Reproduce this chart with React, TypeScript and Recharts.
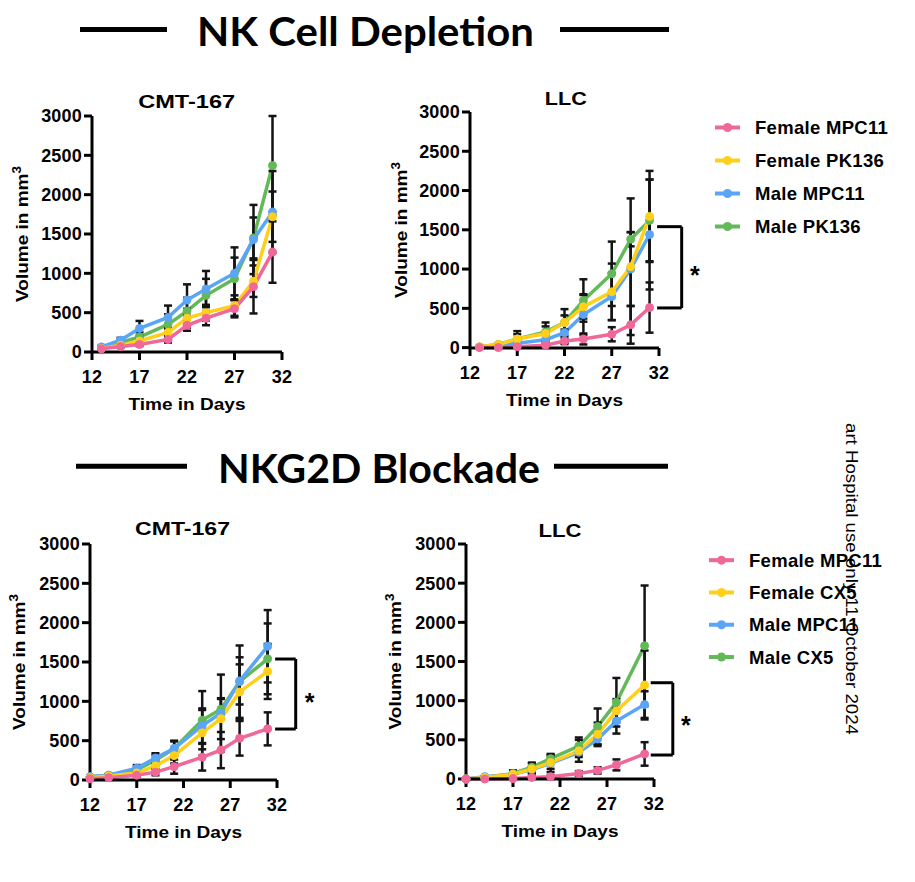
import { LineChart, Line, XAxis, YAxis, ErrorBar, Legend, ReferenceLine, ReferenceDot } from 'recharts'

// days on which tumours were measured
const nkDays = [13, 15, 17, 20, 22, 24, 27, 29, 31]
const blockDays = [12, 14, 17, 19, 21, 24, 26, 28, 31]

const dayTicks = [12, 17, 22, 27, 32]
const volumeTicks = [0, 500, 1000, 1500, 2000, 2500, 3000]

// NK cell depletion - CMT-167
const nkCmtFemaleMpc11 = [40, 70, 95, 160, 340, 430, 550, 830, 1270]
const nkCmtFemaleMpc11Err = [10, 15, 20, 40, 70, 90, 110, 340, 390]
const nkCmtFemalePk136 = [45, 85, 140, 250, 430, 500, 590, 900, 1720]
const nkCmtFemalePk136Err = [10, 20, 40, 60, 120, 100, 130, 200, 320]
const nkCmtMaleMpc11 = [65, 150, 300, 440, 660, 800, 1000, 1430, 1780]
const nkCmtMaleMpc11Err = [15, 30, 95, 150, 200, 230, 330, 440, 520]
const nkCmtMalePk136 = [55, 120, 190, 350, 520, 720, 930, 1450, 2370]
const nkCmtMalePk136Err = [10, 30, 60, 130, 170, 210, 270, 260, 630]

// NK cell depletion - LLC
const nkLlcFemaleMpc11 = [0, 0, 10, 30, 85, 110, 170, 290, 510]
const nkLlcFemaleMpc11Err = [5, 5, 10, 20, 40, 70, 90, 240, 320]
const nkLlcFemalePk136 = [10, 40, 110, 180, 320, 520, 710, 1030, 1670]
const nkLlcFemalePk136Err = [5, 15, 100, 90, 90, 150, 360, 870, 580]
const nkLlcMaleMpc11 = [5, 20, 55, 100, 190, 420, 650, 1000, 1440]
const nkLlcMaleMpc11Err = [5, 10, 30, 60, 130, 260, 300, 470, 700]
const nkLlcMalePk136 = [10, 40, 110, 200, 320, 600, 940, 1380, 1620]
const nkLlcMalePk136Err = [5, 15, 60, 120, 170, 270, 410, 90, 520]

// NKG2D blockade - CMT-167
const blCmtFemaleMpc11 = [15, 30, 60, 100, 170, 290, 380, 530, 650]
const blCmtFemaleMpc11Err = [5, 10, 20, 40, 90, 170, 230, 220, 210]
const blCmtFemaleCx5 = [30, 50, 90, 180, 310, 600, 780, 1120, 1380]
const blCmtFemaleCx5Err = [10, 15, 30, 80, 100, 290, 260, 350, 350]
const blCmtMaleMpc11 = [40, 60, 150, 280, 400, 690, 850, 1260, 1700]
const blCmtMaleMpc11Err = [10, 15, 40, 60, 100, 220, 490, 300, 460]
const blCmtMaleCx5 = [40, 60, 130, 250, 400, 760, 900, 1250, 1540]
const blCmtMaleCx5Err = [10, 15, 40, 70, 90, 370, 130, 460, 450]

// NKG2D blockade - LLC
const blLlcFemaleMpc11 = [0, 0, 5, 20, 30, 70, 110, 180, 320]
const blLlcFemaleMpc11Err = [0, 0, 5, 10, 20, 30, 40, 70, 150]
const blLlcFemaleCx5 = [0, 20, 60, 130, 210, 360, 570, 870, 1200]
const blLlcFemaleCx5Err = [0, 10, 30, 70, 80, 140, 150, 150, 440]
const blLlcMaleMpc11 = [0, 30, 60, 120, 200, 340, 510, 740, 950]
const blLlcMaleMpc11Err = [0, 10, 20, 40, 110, 60, 70, 160, 170]
const blLlcMaleCx5 = [0, 20, 70, 150, 260, 420, 670, 980, 1700]
const blLlcMaleCx5Err = [0, 10, 40, 60, 60, 110, 230, 310, 770]

const nkNames = ['Female MPC11', 'Female PK136', 'Male MPC11', 'Male PK136']
const blockNames = ['Female MPC11', 'Female CX5', 'Male MPC11', 'Male CX5']

const PINK = '#f0679a'
const YELLOW = '#ffcf1a'
const BLUE = '#5aa5f5'
const GREEN = '#63b95a'
const groupColors = [PINK, YELLOW, BLUE, GREEN]
// GraphPad stacking: green at the back, pink on top
const drawOrder = [3, 2, 1, 0]

const FONT = '"Liberation Sans", Arial, sans-serif'
const tickStyle = { fill: '#000', fontSize: 18, fontWeight: 700, fontFamily: FONT, letterSpacing: 0.2 }
const axisStroke = { stroke: '#000', strokeWidth: 3 }

type Series = { name: string; values: number[]; errors: number[] }
type Bracket = { x1: number; x2: number; top: number; bottom: number; starX: number; starY: number }
type LegendBox = { left: number; top: number; rowHeight: number }

const toPoints = (days: number[], values: number[], errors: number[]) =>
  days.map((day, i) => ({ day, volume: values[i], sem: errors[i] }))

function VolumeLabel({ viewBox, x }: any) {
  const cy = viewBox.y + viewBox.height / 2
  return (
    <text
      x={x}
      y={cy}
      transform={`rotate(-90 ${x} ${cy})`}
      textAnchor="middle"
      textLength={136}
      lengthAdjust="spacingAndGlyphs"
      style={{ fontFamily: FONT, fontWeight: 700, fontSize: 17, fill: '#000' }}
    >
      Volume in mm<tspan dy={-7} fontSize={12}>3</tspan>
    </text>
  )
}

function TimeLabel({ viewBox }: any) {
  return (
    <text
      x={viewBox.x + viewBox.width / 2}
      y={viewBox.y + 58}
      textAnchor="middle"
      textLength={117}
      lengthAdjust="spacingAndGlyphs"
      style={{ fontFamily: FONT, fontWeight: 700, fontSize: 17, fill: '#000' }}
    >
      Time in Days
    </text>
  )
}

function LegendList({ payload, names, rowHeight }: any) {
  const items = names.map((n: string) => (payload || []).find((p: any) => p.value === n)).filter(Boolean)
  return (
    <svg width={200} height={rowHeight * 4} style={{ display: 'block' }}>
      {items.map((item: any, i: number) => {
        const cy = rowHeight * i + rowHeight / 2
        return (
          <g key={item.value}>
            <line x1={2} x2={27} y1={cy} y2={cy} stroke={item.color} strokeWidth={4} />
            <circle cx={14.5} cy={cy} r={4.5} fill={item.color} />
            <text
              x={42}
              y={cy + 6.5}
              style={{ fontFamily: FONT, fontWeight: 700, fontSize: 18.5, letterSpacing: 0.3, fill: '#000' }}
            >
              {item.value}
            </text>
          </g>
        )
      })}
    </svg>
  )
}

interface PanelProps {
  left: number
  top: number
  width: number
  margin: { top: number; right: number; bottom: number; left: number }
  days: number[]
  series: Series[]
  yLabelX: number
  bracket?: Bracket
  legend?: LegendBox
}

function Panel({ left, top, width, margin, days, series, yLabelX, bracket, legend }: PanelProps) {
  const names = series.map((s) => s.name)
  return (
    <div style={{ position: 'absolute', left, top }}>
      <LineChart width={width} height={340} margin={margin}>
        <XAxis
          dataKey="day"
          type="number"
          domain={[12, 32]}
          ticks={dayTicks}
          interval={0}
          height={40}
          axisLine={axisStroke}
          tickLine={axisStroke}
          tickSize={8}
          tickMargin={10}
          tick={tickStyle}
          label={(p: any) => <TimeLabel {...p} />}
        />
        <YAxis
          type="number"
          domain={[0, 3000]}
          ticks={volumeTicks}
          interval={0}
          width={60}
          axisLine={axisStroke}
          tickLine={axisStroke}
          tickSize={8}
          tickMargin={2}
          tick={tickStyle}
          label={(p: any) => <VolumeLabel {...p} x={yLabelX} />}
        />
        {drawOrder.map((i) => {
          const s = series[i]
          return (
            <Line
              key={s.name}
              name={s.name}
              data={toPoints(days, s.values, s.errors)}
              dataKey="volume"
              stroke={groupColors[i]}
              strokeWidth={3.5}
              dot={{ r: 4, fill: groupColors[i], stroke: groupColors[i], strokeWidth: 1 }}
              activeDot={false}
              isAnimationActive={false}
            >
              <ErrorBar dataKey="sem" direction="y" width={4} strokeWidth={2.5} stroke="#141414" />
            </Line>
          )
        })}
        {bracket && (
          <>
            <ReferenceLine
              segment={[{ x: bracket.x1, y: bracket.top }, { x: bracket.x2, y: bracket.top }]}
              stroke="#000"
              strokeWidth={3}
              ifOverflow="visible"
            />
            <ReferenceLine
              segment={[{ x: bracket.x2, y: bracket.top }, { x: bracket.x2, y: bracket.bottom }]}
              stroke="#000"
              strokeWidth={3}
              ifOverflow="visible"
            />
            <ReferenceLine
              segment={[{ x: bracket.x1, y: bracket.bottom }, { x: bracket.x2, y: bracket.bottom }]}
              stroke="#000"
              strokeWidth={3}
              ifOverflow="visible"
            />
            <ReferenceDot
              x={bracket.starX}
              y={bracket.starY}
              ifOverflow="visible"
              shape={(p: any) => (
                <text
                  x={p.cx}
                  y={p.cy + 12.5}
                  textAnchor="middle"
                  style={{ fontFamily: FONT, fontWeight: 700, fontSize: 25, fill: '#000' }}
                >
                  *
                </text>
              )}
            />
          </>
        )}
        {legend && (
          <Legend
            layout="vertical"
            align="center"
            verticalAlign="middle"
            wrapperStyle={{ left: legend.left, top: legend.top, width: 200 }}
            content={(p: any) => <LegendList payload={p.payload} names={names} rowHeight={legend.rowHeight} />}
          />
        )}
      </LineChart>
    </div>
  )
}

const nkCmtSeries: Series[] = [
  { name: nkNames[0], values: nkCmtFemaleMpc11, errors: nkCmtFemaleMpc11Err },
  { name: nkNames[1], values: nkCmtFemalePk136, errors: nkCmtFemalePk136Err },
  { name: nkNames[2], values: nkCmtMaleMpc11, errors: nkCmtMaleMpc11Err },
  { name: nkNames[3], values: nkCmtMalePk136, errors: nkCmtMalePk136Err },
]
const nkLlcSeries: Series[] = [
  { name: nkNames[0], values: nkLlcFemaleMpc11, errors: nkLlcFemaleMpc11Err },
  { name: nkNames[1], values: nkLlcFemalePk136, errors: nkLlcFemalePk136Err },
  { name: nkNames[2], values: nkLlcMaleMpc11, errors: nkLlcMaleMpc11Err },
  { name: nkNames[3], values: nkLlcMalePk136, errors: nkLlcMalePk136Err },
]
const blCmtSeries: Series[] = [
  { name: blockNames[0], values: blCmtFemaleMpc11, errors: blCmtFemaleMpc11Err },
  { name: blockNames[1], values: blCmtFemaleCx5, errors: blCmtFemaleCx5Err },
  { name: blockNames[2], values: blCmtMaleMpc11, errors: blCmtMaleMpc11Err },
  { name: blockNames[3], values: blCmtMaleCx5, errors: blCmtMaleCx5Err },
]
const blLlcSeries: Series[] = [
  { name: blockNames[0], values: blLlcFemaleMpc11, errors: blLlcFemaleMpc11Err },
  { name: blockNames[1], values: blLlcFemaleCx5, errors: blLlcFemaleCx5Err },
  { name: blockNames[2], values: blLlcMaleMpc11, errors: blLlcMaleMpc11Err },
  { name: blockNames[3], values: blLlcMaleCx5, errors: blLlcMaleCx5Err },
]

const headStyle = { fontFamily: 'Lato, "Open Sans", sans-serif', fontWeight: 700, fontSize: 40, fill: '#000' }
const subStyle = { fontFamily: FONT, fontWeight: 700, fontSize: 19, fill: '#000' }

export default function App() {
  return (
    <div style={{ position: 'absolute', left: 0, top: 0, width: 915, height: 882, background: '#fff', overflow: 'hidden' }}>
      <Panel
        left={0}
        top={80}
        width={330}
        margin={{ top: 36, right: 48, bottom: 28, left: 32 }}
        days={nkDays}
        series={nkCmtSeries}
        yLabelX={28}
      />
      <Panel
        left={380}
        top={80}
        width={535}
        margin={{ top: 32, right: 256, bottom: 32, left: 30 }}
        days={nkDays}
        series={nkLlcSeries}
        yLabelX={27}
        bracket={{ x1: 31.8, x2: 34.4, top: 1540, bottom: 505, starX: 35.8, starY: 966 }}
        legend={{ left: 333, top: 30.5, rowHeight: 33 }}
      />
      <Panel
        left={0}
        top={510}
        width={330}
        margin={{ top: 34, right: 53, bottom: 30, left: 30 }}
        days={blockDays}
        series={blCmtSeries}
        yLabelX={25}
        bracket={{ x1: 31.8, x2: 34.0, top: 1538, bottom: 648, starX: 35.5, starY: 1042 }}
      />
      <Panel
        left={380}
        top={510}
        width={535}
        margin={{ top: 34, right: 261, bottom: 31, left: 26 }}
        days={blockDays}
        series={blLlcSeries}
        yLabelX={21}
        bracket={{ x1: 31.65, x2: 34.0, top: 1229, bottom: 306, starX: 35.4, starY: 728 }}
        legend={{ left: 327, top: 33.8, rowHeight: 32.3 }}
      />

      <svg width={915} height={882} style={{ position: 'absolute', left: 0, top: 0, pointerEvents: 'none' }}>
        <line x1={80} x2={167} y1={29.5} y2={29.5} stroke="#000" strokeWidth={5} />
        <line x1={560} x2={669} y1={29.5} y2={29.5} stroke="#000" strokeWidth={5} />
        <text x={365.5} y={46} textAnchor="middle" textLength={337} lengthAdjust="spacingAndGlyphs" style={headStyle}>
          NK Cell Depletion
        </text>
        <line x1={76} x2={187} y1={466.3} y2={466.3} stroke="#000" strokeWidth={5} />
        <line x1={554} x2={668} y1={466.3} y2={466.3} stroke="#000" strokeWidth={5} />
        <text x={379} y={483} textAnchor="middle" textLength={322} lengthAdjust="spacingAndGlyphs" style={headStyle}>
          NKG2D Blockade
        </text>

        <text x={186.7} y={108.3} textAnchor="middle" textLength={97} lengthAdjust="spacingAndGlyphs" style={subStyle}>
          CMT-167
        </text>
        <text x={565.8} y={105} textAnchor="middle" textLength={42} lengthAdjust="spacingAndGlyphs" style={subStyle}>
          LLC
        </text>
        <text x={182.5} y={535} textAnchor="middle" textLength={95} lengthAdjust="spacingAndGlyphs" style={subStyle}>
          CMT-167
        </text>
        <text x={560} y={536.7} textAnchor="middle" textLength={43} lengthAdjust="spacingAndGlyphs" style={subStyle}>
          LLC
        </text>

        <text
          x={846}
          y={423}
          transform="rotate(90 846 423)"
          textLength={312}
          lengthAdjust="spacingAndGlyphs"
          style={{ fontFamily: FONT, fontSize: 16, fill: '#000' }}
        >
          art Hospital use only 11 October 2024
        </text>
      </svg>
    </div>
  )
}
